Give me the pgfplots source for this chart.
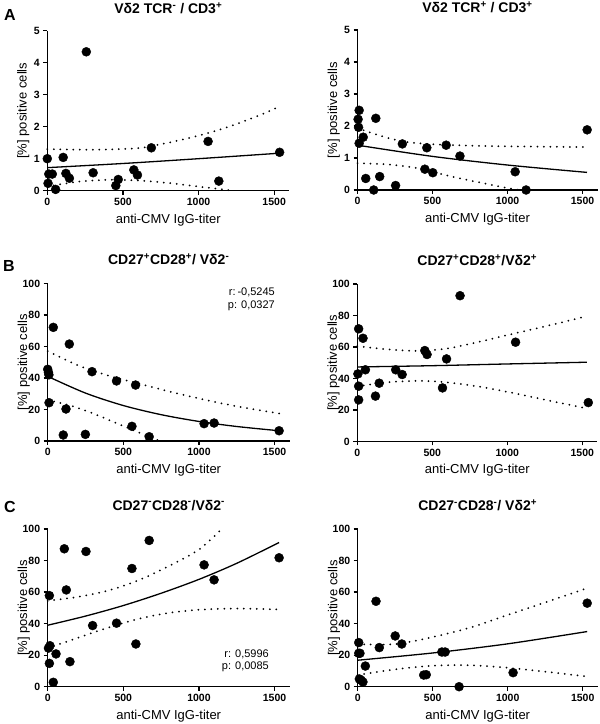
\documentclass[border=0pt]{standalone}
\usepackage{fontspec}
\setmainfont{Liberation Sans}
\usepackage{pgfplots}
\pgfplotsset{compat=1.18}

\pgfplotsset{
  panel/.style={
    scale only axis, width=242bp, height=160bp,
    xmin=0, xmax=1600, ymin=0,
    axis lines=left, axis line style={-, line width=1.4bp},
    tick align=outside, major tick length=4bp,
    tick style={line width=1.3bp, black},
    xtick={0,500,1000,1500},
    clip=false,
    /pgf/number format/assume math mode=true,
    /pgf/number format/1000 sep={},
    tick label style={font=\fontsize{10.5bp}{12bp}\selectfont\bfseries},
    xlabel={anti-CMV IgG-titer},
    ylabel={[\%] positive cells},
    every axis x label/.style={at={(axis description cs:0.5,0)}, anchor=center, yshift=-29bp, font=\fontsize{13bp}{15bp}\selectfont},
    every axis y label/.style={at={(axis description cs:-0.099,0.5)}, anchor=center, rotate=90, font=\fontsize{13bp}{15bp}\selectfont},
    title style={at={(axis description cs:0.5,1)}, anchor=center, yshift=18bp, font=\fontsize{14bp}{16bp}\selectfont\bfseries},
  },
  smallpanel/.style={panel, ymax=5, ytick={0,1,2,3,4,5}, title style={yshift=-1.5bp}},
  pctpanel/.style={panel, ymax=100, ytick={0,20,40,60,80,100}, height=157.6bp},
  dot/.style={only marks, mark=*, mark size=4.5bp, black, mark options={fill=black}},
  fitl/.style={no marks, smooth, black, line width=1.3bp},
  ci/.style={no marks, smooth, black, line width=2bp, line cap=round, dash pattern=on 0bp off 6.5bp},
}
\newcommand{\supx}[1]{\textsuperscript{#1}}

\begin{document}
\begin{tikzpicture}
\useasboundingbox (0bp,0bp) rectangle (600bp,724bp);

% ---------------- Panel A left
\begin{axis}[smallpanel, at={(47.3bp,533.3bp)}, anchor=south west, width=242bp,
  title={Vδ2 TCR\supx{-} / CD3\supx{+}}]
\addplot[ci] coordinates {(0,1.3) (300,1.28) (600,1.33) (800,1.5) (1000,1.72) (1200,2.0) (1400,2.35) (1530,2.62)};
\addplot[ci] coordinates {(0,0.13) (200,0.28) (400,0.34) (600,0.32) (800,0.24) (1000,0.13) (1230,0)};
\addplot[fitl] coordinates {(0,0.72) (500,0.85) (1000,1.0) (1530,1.17)};
\addplot[dot] coordinates {
(0,1.0) (5,0.23) (10,0.52) (33,0.52) (55,0.04) (105,1.04) (123,0.54) (146,0.39)
(258,4.34) (303,0.56) (453,0.16) (469,0.35) (572,0.65) (596,0.49) (688,1.34)
(1063,1.54) (1134,0.30) (1536,1.20)};
\end{axis}

% ---------------- Panel A right
\begin{axis}[smallpanel, at={(357.5bp,534bp)}, anchor=south west, width=240bp,
  title={Vδ2 TCR\supx{+} / CD3\supx{+}}]
\addplot[ci] coordinates {(0,1.93) (150,1.7) (300,1.52) (500,1.43) (800,1.38) (1100,1.36) (1530,1.34)};
\addplot[ci] coordinates {(0,0.84) (200,0.8) (400,0.68) (600,0.45) (800,0.25) (1000,0.06) (1080,0)};
\addplot[fitl] coordinates {(0,1.4) (500,1.05) (1000,0.78) (1530,0.55)};
\addplot[dot] coordinates {
(11,2.49) (4,2.21) (7,1.96) (11,1.46) (38,1.65) (55,0.36) (108,0.0) (122,2.24)
(148,0.42) (254,0.14) (299,1.44) (449,0.65) (462,1.32) (502,0.54) (591,1.40)
(683,1.06) (1051,0.57) (1124,0.0) (1531,1.88)};
\end{axis}

% ---------------- Panel B left
\begin{axis}[pctpanel, at={(47.7bp,283bp)}, anchor=south west, width=242bp,
  title={CD27\supx{+}CD28\supx{+}/ Vδ2\supx{-}}]
\addplot[ci] coordinates {(0,57) (200,48) (400,41.5) (600,36.5) (800,31.5) (1000,27) (1250,22) (1530,17.5)};
\addplot[ci] coordinates {(0,26) (150,22.5) (300,17.5) (450,11.5) (600,5.5) (740,0)};
\addplot[fitl] coordinates {(0,41) (250,30.4) (500,22.5) (750,16.7) (1000,12.4) (1250,9.2) (1530,6.5)};
\addplot[dot] coordinates {
(0,45.5) (5,43.5) (8,42) (9,24.3) (37,72.1) (103,3.8) (121,20.3) (143,61.5)
(249,4.2) (293,44) (455,38.1) (557,9.3) (581,35.5) (671,2.7) (1034,11.0)
(1100,11.4) (1530,6.5)};
\node[anchor=east, align=right, font=\fontsize{11bp}{12.7bp}\selectfont] at (axis cs:1525,90) {r:\,-0,5245\\p: 0,0327};
\end{axis}

% ---------------- Panel B right
\begin{axis}[pctpanel, at={(357.3bp,282.5bp)}, anchor=south west, width=240bp,
  title={CD27\supx{+}CD28\supx{+}/Vδ2\supx{+}}]
\addplot[ci] coordinates {(0,60.5) (200,58.5) (400,57.5) (600,59) (800,63) (1000,67.5) (1250,73) (1530,79.5)};
\addplot[ci] coordinates {(0,35) (200,37.5) (400,38.5) (600,37.5) (800,35) (1000,31.5) (1250,26.5) (1530,21)};
\addplot[fitl] coordinates {(0,47.3) (500,48.1) (1000,49.2) (1530,50.3)};
\addplot[dot] coordinates {
(9,71.5) (4,42.9) (9,35.1) (9,26.4) (38,65.5) (54,45.5) (121,28.8) (146,37)
(256,45.5) (299,42.5) (450,57.7) (465,55.2) (568,34) (595,52.4) (685,92.5)
(1055,63) (1540,24.7)};
\end{axis}

% ---------------- Panel C left
\begin{axis}[pctpanel, at={(47.7bp,37.3bp)}, anchor=south west, width=242bp,
  title={CD27\supx{-}CD28\supx{-}/Vδ2\supx{-}}]
\addplot[ci] coordinates {(0,54.5) (200,57) (400,61) (600,67.5) (800,76.5) (1000,87) (1150,100)};
\addplot[ci] coordinates {(0,24.5) (200,31) (400,37.5) (600,43) (800,46.8) (1000,48.8) (1250,49.6) (1530,49)};
\addplot[fitl] coordinates {(0,39) (250,44.8) (500,51.5) (750,59.3) (1000,68.1) (1250,78.3) (1530,91.5)};
\addplot[dot] coordinates {
(11,57.8) (15,26) (5,24.5) (11,14.8) (110,87.5) (123,61.4) (253,85.8) (37,2.8)
(55,20.8) (147,15.9) (297,38.8) (455,40.3) (557,75) (583,27.1) (671,92.8)
(1034,77.3) (1100,67.8) (1530,81.8)};
\node[anchor=east, align=right, font=\fontsize{11bp}{12.7bp}\selectfont] at (axis cs:1485,16.4) {r: 0,5996\\p: 0,0085};
\end{axis}

% ---------------- Panel C right
\begin{axis}[pctpanel, at={(357.7bp,37.3bp)}, anchor=south west, width=240bp,
  title={CD27\supx{-}CD28\supx{-}/ Vδ2\supx{+}}]
\addplot[ci] coordinates {(0,27) (250,27) (500,31.5) (750,37.5) (1000,45.5) (1250,53.5) (1530,62.5)};
\addplot[ci] coordinates {(0,7.4) (250,11) (500,13.3) (750,13.6) (1000,12) (1250,9.5) (1530,6.5)};
\addplot[fitl] coordinates {(0,16.8) (500,21.4) (1000,27.2) (1530,35)};
\addplot[dot] coordinates {
(7,28) (7,21.2) (15,21.2) (11,4.9) (22,4.2) (35,3.0) (51,13.1) (122,54.2)
(144,24.8) (250,32.2) (294,27.1) (440,7.4) (457,7.6) (561,22) (583,22)
(676,0) (1036,8.9) (1530,53)};
\end{axis}

% panel letters
\node[font=\fontsize{16bp}{18bp}\selectfont\bfseries] at (10bp,709bp) {A};
\node[font=\fontsize{16bp}{18bp}\selectfont\bfseries] at (9bp,458bp) {B};
\node[font=\fontsize{16bp}{18bp}\selectfont\bfseries] at (10bp,217.3bp) {C};
\end{tikzpicture}
\end{document}
